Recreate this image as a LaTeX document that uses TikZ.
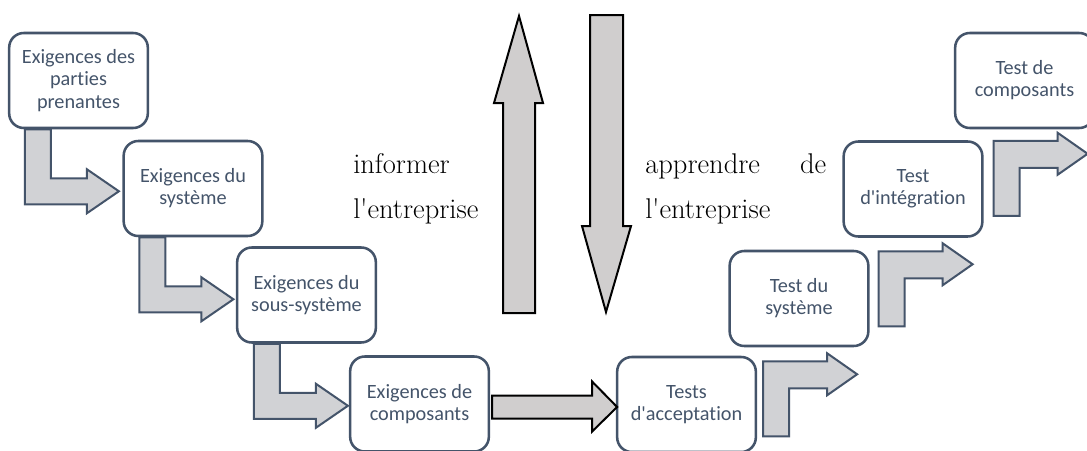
\documentclass[tikz,border=0pt]{standalone}
\usepackage{fontspec}
\newfontfamily\boxfont{Carlito}[Ligatures={NoCommon,NoContextual}]
\usetikzlibrary{calc}
\definecolor{slate}{HTML}{44546A}
\definecolor{arrowgray}{HTML}{D0CECE}
\definecolor{bentgray}{HTML}{D1D2D5}
\tikzset{
  stage/.style={draw=slate, line width=1.9pt, rounded corners=11pt, fill=white,
    minimum width=104pt, minimum height=71.25pt, inner sep=0pt, text=slate,
    font=\boxfont\fontsize{15.2}{16.6}\selectfont, align=center},
  bent/.style={draw=slate, fill=bentgray, line width=1.5pt, line join=miter},
  bigarrow/.style={draw=black, fill=arrowgray, line width=1.5pt, line join=miter},
  side/.style={inner sep=0pt, anchor=base west, font=\fontsize{21.4}{25}\selectfont},
  pics/downright/.style={code={
    \draw[bent] (0,0) -- (26,0) -- (26,49) -- (62,49) -- (62,40) -- (94,62)
      -- (62,84) -- (62,75) -- (0,75) -- cycle;}},
  pics/upright/.style={code={
    \draw[bent] (0,0) -- (0,-75) -- (64,-75) -- (64,-83) -- (94,-62)
      -- (64,-41) -- (64,-48) -- (26,-48) -- (26,0) -- cycle;}},
}
\begin{document}
\begin{tikzpicture}[x=0.75pt, y=-0.75pt]
\clip (0,0) rectangle (1087,450);
\fill[white] (0,0) rectangle (1087,450);

% descending branch: requirements
\node[stage] (b1) at (78.5,80.5)  {Exigences des\\parties\\prenantes};
\node[stage] (b2) at (193,188.5)  {Exigences du\\système};
\node[stage] (b3) at (306.5,295)  {Exigences du\\sous-système};
\node[stage] (b4) at (419.5,404)  {Exigences de\\composants};

% ascending branch: tests
\node[stage] (b5) at (686.5,404.5) {Tests\\d\textquotesingle acceptation};
\node[stage] (b6) at (799,298.5)   {Test du\\système};
\node[stage] (b7) at (913,189)     {Test\\d\textquotesingle intégration};
\node[stage] (b8) at (1024.5,80.5) {Test de\\composants};

% bent block arrows
\pic at ($(b1.south west)+(17,0)$) {downright};
\pic at ($(b2.south west)+(17,0)$) {downright};
\pic at ($(b3.south west)+(18,0)$) {downright};
\pic at ($(b5.south east)+(6,-17)$) {upright};
\pic at ($(b6.south east)+(9,-21)$) {upright};
\pic at ($(b7.south east)+(10,-22)$) {upright};

% link between the two branches
\begin{scope}[shift={(b4.east)}]
  \draw[bigarrow] (2,-8.5) -- (102,-8.5) -- (102,-22.5) -- (127,3) -- (102,27.5)
    -- (102,14.5) -- (2,14.5) -- cycle;
\end{scope}

% vertical exchange with the enterprise
\draw[bigarrow] (503,313) -- (503,103) -- (494,103) -- (519,16) -- (543,103)
  -- (535,103) -- (535,313) -- cycle;
\draw[bigarrow] (590,15) -- (623,15) -- (623,226) -- (631,226) -- (606,312)
  -- (582,226) -- (590,226) -- cycle;

\node[side] (inf1) at (353,173) {informer};
\node[side] (inf2) at (353,218) {l\textquotesingle entreprise};
\node[side] (app1) at (645,173) {\makebox[135.75pt][s]{apprendre de}};
\node[side] (app2) at (645,218) {l\textquotesingle entreprise};
\end{tikzpicture}
\end{document}
